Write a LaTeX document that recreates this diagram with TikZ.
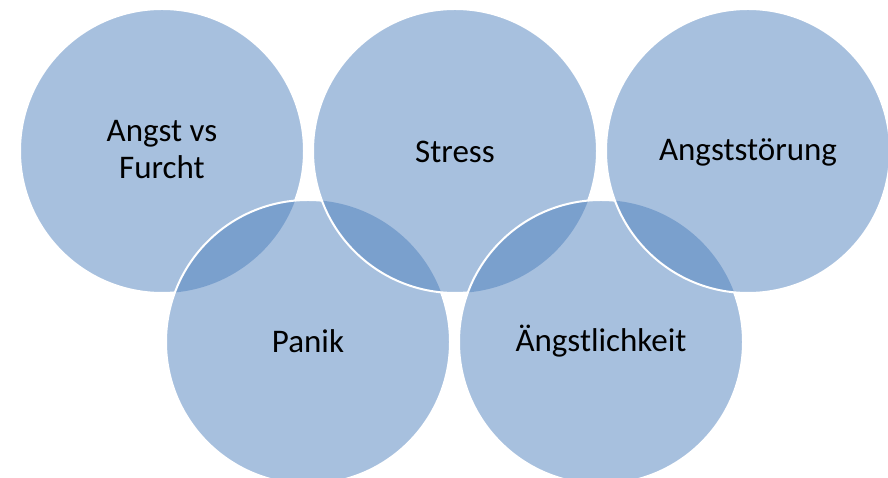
\documentclass[tikz,border=0pt]{standalone}
\usepackage{fontspec}
\setmainfont{Carlito}
\definecolor{ringblue}{HTML}{4F81BD}
\tikzset{
  ring/.style={fill=ringblue, fill opacity=0.5, draw=none},
  rim/.style={draw=white, line width=2pt},
  lbl/.style={font=\fontsize{33}{37}\selectfont, align=center, text=black},
  outside/.style={insert path={(-20,-20) -- (-20,500) -- (910,500) -- (910,-20) -- cycle}}
}
\begin{document}
\begin{tikzpicture}[x=1pt,y=1pt]
\useasboundingbox (0,0) rectangle (888,478);
\clip (0,0) rectangle (888,478);
\coordinate (c1) at (162,327);
\coordinate (c2) at (455,327);
\coordinate (c3) at (748,327);
\coordinate (c4) at (308,136);
\coordinate (c5) at (601,136);
% fills
\fill[ring] (c1) circle (142);
\fill[ring] (c4) circle (142);
\fill[ring] (c2) circle (142);
\fill[ring] (c5) circle (142);
\fill[ring] (c3) circle (142);
% outlines (order c1, c4, c2, c5, c3)
\draw[rim] (c3) circle (142);
\begin{scope}
  \clip (c3) circle (142) [outside];
  \draw[rim] (c5) circle (142);
  \begin{scope}
    \clip (c5) circle (142) [outside];
    \draw[rim] (c2) circle (142);
    \begin{scope}
      \clip (c2) circle (142) [outside];
      \draw[rim] (c4) circle (142);
      \begin{scope}
        \clip (c4) circle (142) [outside];
        \draw[rim] (c1) circle (142);
      \end{scope}
    \end{scope}
  \end{scope}
\end{scope}
% labels
\node[lbl] (t1) at (162,328) {Angst vs\\Furcht};
\node[lbl] (t2) at (455,326) {Stress};
\node[lbl] (t3) at (748,326) {Angststörung};
\node[lbl] (t4) at (308,137) {Panik};
\node[lbl] (t5) at (601,137) {Ängstlichkeit};
\end{tikzpicture}
\end{document}
